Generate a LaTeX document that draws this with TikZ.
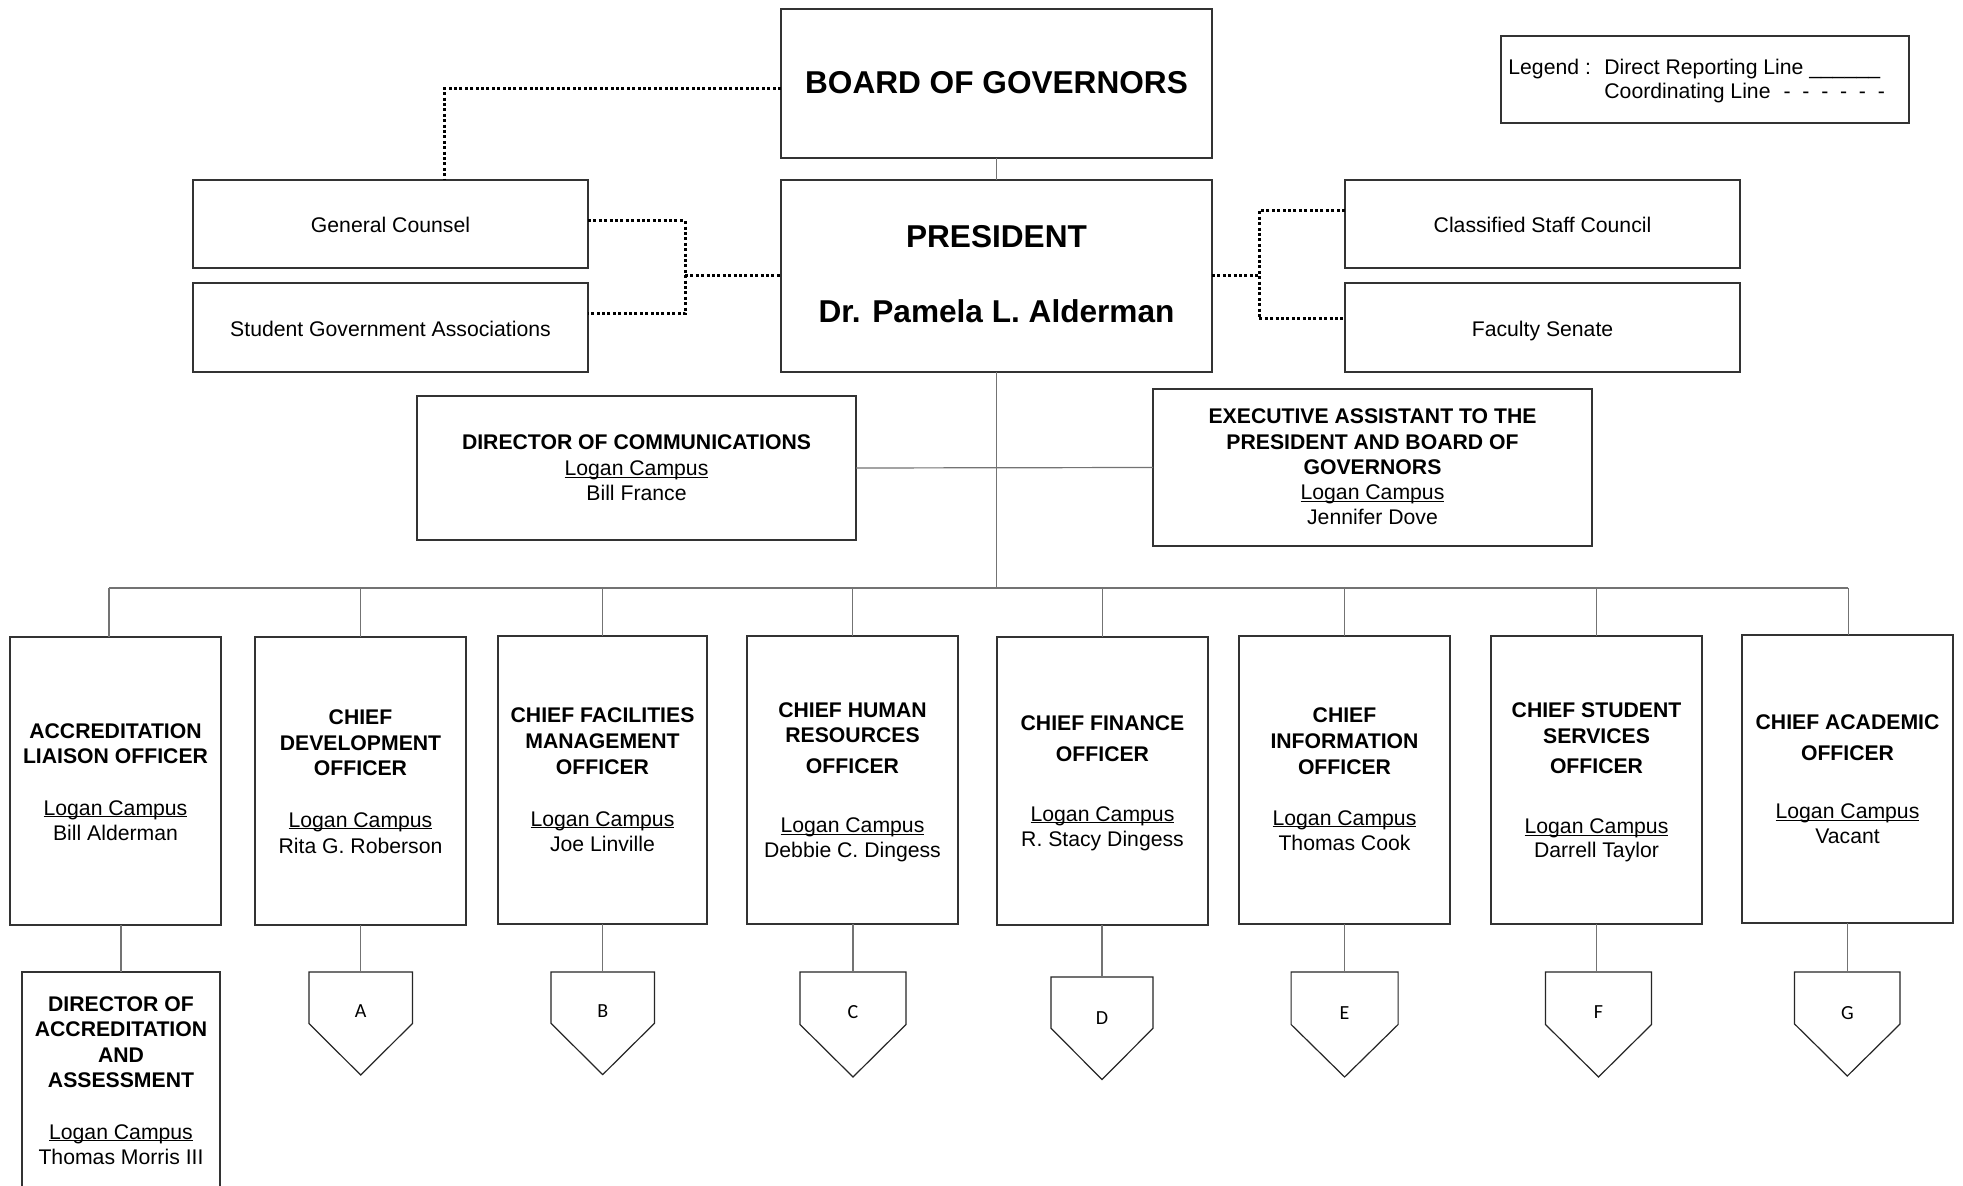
\documentclass[tikz,border=0pt]{standalone}
\usepackage{fontspec}
\setmainfont{Liberation Sans}
\newfontfamily\letterfont{Carlito}
\newcommand\myul[1]{\setbox0\hbox{#1}\rlap{\rule[-1.1pt]{\wd0}{0.5pt}}\box0}
\newcommand\bx[5]{\node[box, minimum width={(#4-#2)*0.5pt}, minimum height={(#5-#3)*0.5pt}] (#1) at ({(#2+#4)/2},{(#3+#5)/2}) {};}
\newcommand\pentnode[6]{%
  \node[pent, minimum width={#4*0.5pt}, minimum height={#5*0.5pt}] (#1) at (#2,{#3+#5/2}) {};
  \draw[pentline] (#1.north west) -- (#1.north east) -- (#1.east) -- (#1.south) -- (#1.west) -- cycle;
  \node[pentlet] (#1t) at (#2,#6) {\csname pentletter#1\endcsname};}
\tikzset{
  box/.style={draw=black!80, line width=0.6pt, fill=white, inner sep=0pt, outer sep=0pt},
  conn/.style={draw=black!55, line width=0.6pt},
  coordln/.style={draw=black, line width=1.5pt, dash pattern=on 1.5pt off 1.2pt},
  txt/.style={anchor=base, inner sep=0pt, font=\fontsize{10.6}{12}\selectfont},
  ttl/.style={anchor=base, inner sep=0pt, font=\fontsize{10.6}{12}\selectfont\bfseries},
  big/.style={anchor=base, inner sep=0pt, font=\fontsize{15.8}{19}\selectfont\bfseries},
  pent/.style={inner sep=0pt, outer sep=0pt},
  pentline/.style={draw=black!85, line width=0.6pt},
  pentlet/.style={anchor=base, inner sep=0pt, font=\letterfont\fontsize{10}{11}\selectfont},
}
\def\pentletterpA{A}\def\pentletterpB{B}\def\pentletterpC{C}\def\pentletterpD{D}
\def\pentletterpE{E}\def\pentletterpF{F}\def\pentletterpG{G}
\begin{document}
\begin{tikzpicture}[x=0.5pt,y=-0.5pt]
\useasboundingbox (0,0) rectangle (1963,1186);
\clip (0,0) rectangle (1963,1186);
\fill[white] (0,0) rectangle (1963,1186);

% ---- boxes
\bx{board}{781}{9}{1212}{158}
\bx{legend}{1501}{36}{1909}{123}
\bx{gc}{193}{180}{588}{268}
\bx{sga}{193}{283}{588}{372}
\bx{pres}{781}{180}{1212}{372}
\bx{csc}{1345}{180}{1740}{268}
\bx{fs}{1345}{283}{1740}{372}
\bx{doc}{417}{396}{856}{540}
\bx{ea}{1153}{389}{1592}{546}
\bx{acc}{10}{637}{221}{925}
\bx{dev}{255}{637}{466}{925}
\bx{fac}{498}{636}{707}{924}
\bx{hr}{747}{636}{958}{924}
\bx{fin}{997}{637}{1208}{925}
\bx{info}{1239}{636}{1450}{924}
\bx{stu}{1491}{636}{1702}{924}
\bx{aca}{1742}{635}{1953}{923}
\bx{dir}{22}{972}{220}{1196}

% ---- pentagons (off-page connectors)
\pentnode{pA}{360.7}{972}{103.5}{103}{1017.4}
\pentnode{pB}{602.7}{972}{103.5}{102.6}{1017.4}
\pentnode{pC}{853}{972}{106}{105}{1018.5}
\pentnode{pD}{1102}{977}{102}{102.5}{1024}
\pentnode{pE}{1344.6}{972}{107}{105}{1019}
\pentnode{pF}{1598.5}{972}{106}{105}{1018.5}
\pentnode{pG}{1847.3}{972}{105.5}{104}{1019}

% ---- texts
\node[big] (tboard) at (996.5,93.3) {BOARD OF GOVERNORS};
\node[big] (tpres1) at (996.5,248) {PRESIDENT};
\node[big] (tpres2) at (996.5,323) {Dr. Pamela L. Alderman};
\node[txt] (tgc) at (390.5,232.3) {General Counsel};
\node[txt] (tsga) at (390.5,336.7) {Student Government Associations};
\node[txt] (tcsc) at (1542.5,232.3) {Classified Staff Council};
\node[txt] (tfs) at (1542.5,336.7) {Faculty Senate};

\node[txt, anchor=base west] (lg1) at (1508,75) {Legend :};
\node[txt, anchor=base west] (lg2) at (1604,75) {Direct Reporting Line \_\_\_\_\_\_};
\node[txt, anchor=base west] (lg3) at (1604,98.3) {Coordinating Line\hspace{6.5pt}-\hspace{5.9pt}-\hspace{5.9pt}-\hspace{5.9pt}-\hspace{5.9pt}-\hspace{5.9pt}-};

\node[ttl] (tdoc1) at (636.5,449.3) {DIRECTOR OF COMMUNICATIONS};
\node[txt] (tdoc2) at (636.5,476) {\myul{Logan Campus}};
\node[txt] (tdoc3) at (636.5,501) {Bill France};

\node[ttl] (tea1) at (1372.5,423.3) {EXECUTIVE ASSISTANT TO THE};
\node[ttl] (tea2) at (1372.5,450) {PRESIDENT AND BOARD OF};
\node[ttl] (tea3) at (1372.5,475) {GOVERNORS};
\node[txt] (tea4) at (1372.5,500) {\myul{Logan Campus}};
\node[txt] (tea5) at (1372.5,524.7) {Jennifer Dove};

\node[ttl] (tacc1) at (115.5,738) {ACCREDITATION};
\node[ttl] (tacc2) at (115.5,763.3) {LIAISON OFFICER};
\node[txt] (tacc3) at (115.5,815) {\myul{Logan Campus}};
\node[txt] (tacc4) at (115.5,840) {Bill Alderman};

\node[ttl] (tdev1) at (360.5,724) {CHIEF};
\node[ttl] (tdev2) at (360.5,750) {DEVELOPMENT};
\node[ttl] (tdev3) at (360.5,775.6) {OFFICER};
\node[txt] (tdev4) at (360.5,827) {\myul{Logan Campus}};
\node[txt] (tdev5) at (360.5,853.4) {Rita G. Roberson};

\node[ttl] (tfac1) at (602.5,722.6) {CHIEF FACILITIES};
\node[ttl] (tfac2) at (602.5,748.7) {MANAGEMENT};
\node[ttl] (tfac3) at (602.5,774.5) {OFFICER};
\node[txt] (tfac4) at (602.5,826) {\myul{Logan Campus}};
\node[txt] (tfac5) at (602.5,851) {Joe Linville};

\node[ttl] (thr1) at (852.5,717) {CHIEF HUMAN};
\node[ttl] (thr2) at (852.5,742) {RESOURCES};
\node[ttl] (thr3) at (852.5,773) {OFFICER};
\node[txt] (thr4) at (852.5,832.8) {\myul{Logan Campus}};
\node[txt] (thr5) at (852.5,857.8) {Debbie C. Dingess};

\node[ttl] (tfin1) at (1102.5,730.8) {CHIEF FINANCE};
\node[ttl] (tfin2) at (1102.5,761.4) {OFFICER};
\node[txt] (tfin3) at (1102.5,821) {\myul{Logan Campus}};
\node[txt] (tfin4) at (1102.5,846.6) {R. Stacy Dingess};

\node[ttl] (tinf1) at (1344.5,722) {CHIEF};
\node[ttl] (tinf2) at (1344.5,748.7) {INFORMATION};
\node[ttl] (tinf3) at (1344.5,774.5) {OFFICER};
\node[txt] (tinf4) at (1344.5,825) {\myul{Logan Campus}};
\node[txt] (tinf5) at (1344.5,850.4) {Thomas Cook};

\node[ttl] (tstu1) at (1596.5,717) {CHIEF STUDENT};
\node[ttl] (tstu2) at (1596.5,743) {SERVICES};
\node[ttl] (tstu3) at (1596.5,773) {OFFICER};
\node[txt] (tstu4) at (1596.5,833.6) {\myul{Logan Campus}};
\node[txt] (tstu5) at (1596.5,857.8) {Darrell Taylor};

\node[ttl] (taca1) at (1847.5,729) {CHIEF ACADEMIC};
\node[ttl] (taca2) at (1847.5,760) {OFFICER};
\node[txt] (taca3) at (1847.5,818.6) {\myul{Logan Campus}};
\node[txt] (taca4) at (1847.5,843.6) {Vacant};

\node[ttl] (tdir1) at (121,1011) {DIRECTOR OF};
\node[ttl] (tdir2) at (121,1036) {ACCREDITATION};
\node[ttl] (tdir3) at (121,1062) {AND};
\node[ttl] (tdir4) at (121,1087.7) {ASSESSMENT};
\node[txt] (tdir5) at (121,1139) {\myul{Logan Campus}};
\node[txt] (tdir6) at (121,1164) {Thomas Morris III};

% ---- direct reporting lines
\coordinate (busL) at (109,588);
\coordinate (busR) at (1848.4,588);
\draw[conn] (board.south) -- (pres.north);
\draw[conn] (pres.south) -- (pres.south |- busL);
\draw[conn] (busL) -- (busR);
\draw[conn] (doc.east) -- (ea.west);
\draw[conn] (busL) -- (busL |- acc.north);
\draw[conn] (dev.north |- busL) -- (dev.north);
\draw[conn] (fac.north |- busL) -- (fac.north);
\draw[conn] (hr.north |- busL) -- (hr.north);
\draw[conn] (fin.north |- busL) -- (fin.north);
\draw[conn] (info.north |- busL) -- (info.north);
\draw[conn] (stu.north |- busL) -- (stu.north);
\draw[conn] (busR) -- (busR |- aca.north);
\draw[conn] (dir.north |- acc.south) -- (dir.north);
\draw[conn] (pA.north |- dev.south) -- (pA.north);
\draw[conn] (pB.north |- fac.south) -- (pB.north);
\draw[conn] (pC.north |- hr.south) -- (pC.north);
\draw[conn] (pD.north |- fin.south) -- (pD.north);
\draw[conn] (pE.north |- info.south) -- (pE.north);
\draw[conn] (stu.south) -- (stu.south |- pF.north);
\draw[conn] (pG.north |- aca.south) -- (pG.north);

% ---- coordinating lines
\coordinate (k1) at (444,89);
\coordinate (k3) at (685,221);
\coordinate (k4) at (685,314);
\coordinate (k2) at (685,276);
\coordinate (k5) at (1259,276);
\coordinate (k6) at (1259,211);
\coordinate (k7) at (1259,319);
\draw[coordln] (board.west |- k1) -- (k1) -- (k1 |- gc.north);
\draw[coordln] (gc.east |- k3) -- (k3) -- (k4) -- (sga.east |- k4);
\draw[coordln] (k2) -- (pres.west |- k2);
\draw[coordln] (pres.east |- k5) -- (k5);
\draw[coordln] (csc.west |- k6) -- (k6) -- (k7) -- (fs.west |- k7);
\end{tikzpicture}
\end{document}
